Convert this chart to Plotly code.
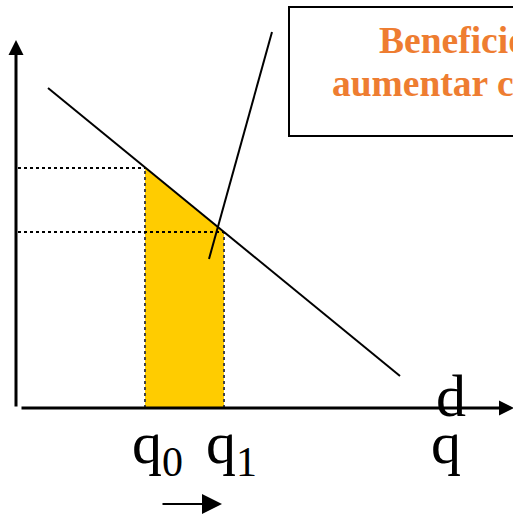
import plotly.graph_objects as go

# demand curve end points (quantity, price)
demand_q = [32, 384]
demand_p = [320, 32]

# the two quantities and the prices on the demand curve
q_values = [129, 208]
p_values = [240, 176]

# callout line from the box down into the shaded area
callout_q = [256, 193]
callout_p = [376, 149]

box_text = ["Beneficio de", "aumentar cantidad"]
orange = "#EE7D31"
serif = "Liberation Serif"

q0, q1 = q_values
p0, p1 = p_values

fig = go.Figure()

# shaded benefit area under the demand curve
fig.add_trace(go.Scatter(x=[q0, q0, q1, q1, q0], y=[0, p0, p1, 0, 0], fill="toself",
                         fillcolor="#FFCC00", mode="lines", line=dict(width=0),
                         hoverinfo="skip"))

# dotted guides
for q, p in zip(q_values, p_values):
    fig.add_trace(go.Scatter(x=[2, q], y=[p, p], mode="lines",
                             line=dict(color="black", width=2, dash="dot")))
    fig.add_trace(go.Scatter(x=[q, q], y=[0, p], mode="lines",
                             line=dict(color="#444444", width=2, dash="dot")))

# demand curve
fig.add_trace(go.Scatter(x=demand_q, y=demand_p, mode="lines",
                         line=dict(color="black", width=2)))

# callout
fig.add_trace(go.Scatter(x=callout_q, y=callout_p, mode="lines",
                         line=dict(color="black", width=2)))

# text box
fig.add_shape(type="rect", x0=273, x1=540, y0=272, y1=401,
              line=dict(color="black", width=2), fillcolor="rgba(0,0,0,0)")

annots = []
# axes with arrows
annots.append(dict(x=0, y=368, ax=0, ay=0, xref="x", yref="y", axref="x", ayref="y",
                   showarrow=True, arrowhead=2, arrowsize=1, arrowwidth=3, arrowcolor="black", text=""))
annots.append(dict(x=498, y=0, ax=4, ay=0, xref="x", yref="y", axref="x", ayref="y",
                   showarrow=True, arrowhead=2, arrowsize=1, arrowwidth=3, arrowcolor="black", text=""))
# small arrow below the quantities
annots.append(dict(x=q1 - 2, y=-96, ax=q0 + 16, ay=-96, xref="x", yref="y", axref="x", ayref="y",
                   showarrow=True, arrowhead=2, arrowsize=2, arrowwidth=2, arrowcolor="black", text=""))

def label(text, x, y, size, bold=False, color="black"):
    if bold:
        text = "<b>" + text + "</b>"
    return dict(x=x, y=y, xref="x", yref="y", text=text, showarrow=False,
                xanchor="left", yanchor="top", borderpad=0, borderwidth=0,
                font=dict(family=serif, size=size, color=color))

annots.append(label(box_text[0], 362.5, 387.6, 37.5, bold=True, color=orange))
annots.append(label(box_text[1], 315.5, 344.6, 37.5, bold=True, color=orange))
annots.append(label("q<sub>0</sub>", q0 - 13, -2, 60))
annots.append(label("q<sub>1</sub>", q1 - 18, -2, 60))
annots.append(label("q", 415, -2, 60))
annots.append(label("d", 419.5, 45.5, 60))

fig.update_layout(
    width=513, height=515,
    margin=dict(l=0, r=0, t=0, b=0),
    paper_bgcolor="white", plot_bgcolor="white",
    showlegend=False,
    annotations=annots,
    xaxis=dict(range=[-16, 497], visible=False, fixedrange=True),
    yaxis=dict(range=[-107, 408], visible=False, fixedrange=True),
)

# the page body has a default 8px margin; drop it so the figure fills the window
fig.write_html("out.html", config={"displayModeBar": False},
               post_script="document.body.style.margin='0';")
